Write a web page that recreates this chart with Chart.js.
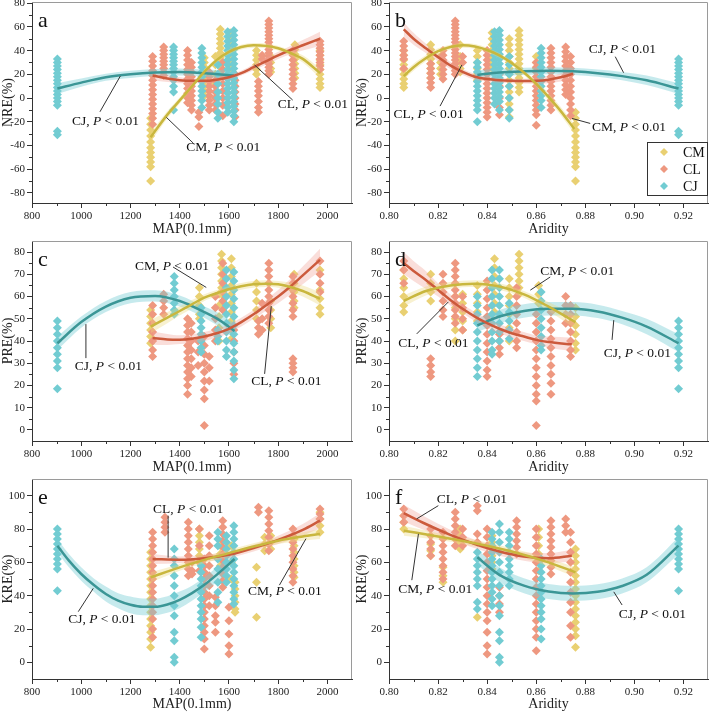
<!DOCTYPE html>
<html>
<head>
<meta charset="utf-8">
<script src="https://cdn.jsdelivr.net/npm/chart.js@4.4.1/dist/chart.umd.min.js"></script>
<style>
html, body { margin: 0; padding: 0; background: #fff; }
#wrap { position: relative; width: 709px; height: 713px; overflow: hidden; }
canvas { position: absolute; }
</style>
</head>
<body>
<div id="wrap">
  <canvas id="pa" width="354" height="238" style="left:0;top:0"></canvas>
  <canvas id="pb" width="355" height="238" style="left:354px;top:0"></canvas>
  <canvas id="pc" width="354" height="238" style="left:0;top:238px"></canvas>
  <canvas id="pd" width="355" height="238" style="left:354px;top:238px"></canvas>
  <canvas id="pe" width="354" height="237" style="left:0;top:476px"></canvas>
  <canvas id="pf" width="355" height="237" style="left:354px;top:476px"></canvas>
</div>
<script>
// tick values
const mapTicks = [800, 1000, 1200, 1400, 1600, 1800, 2000];
const aridTicks = [0.80, 0.82, 0.84, 0.86, 0.88, 0.90, 0.92];
const nreTicks = [-80, -60, -40, -20, 0, 20, 40, 60, 80];
const preTicks = [0, 10, 20, 30, 40, 50, 60, 70, 80];
const kreTicks = [0, 20, 40, 60, 80, 100];
const species = ['CM', 'CL', 'CJ'];

// columns of samples: [x, [y values]]
// NRE vs MAP
const nreMapCM = [
  [1282, [-17, -22, -27, -32, -37, -42, -46, -50, -54, -58, -70]],
  [1500, [34, 30, 26, 22, 18, 14, 10, 6, 2]],
  [1545, [35, 28, 20, 12]],
  [1565, [58, 54, 50, 46, 42, 38, 34, 30, 26, 22, 18]],
  [1605, [55, 51, 47, 43, 39, 35, 31, 27, 23]],
  [1712, [40, 36, 32, 28, 24, 20]],
  [1770, [35, 30, 25, 22]],
  [1868, [45, 41, 37, 33, 29, 25, 21, 17]],
  [1970, [40, 36, 32, 28, 24, 20, 16, 12, 9]]
];
const nreMapCL = [
  [1290, [35, 31, 27, 23, 19, 15, 11, 7, 3, -1, -5, -9, -13, -17, -22]],
  [1335, [43, 40, 37, 34, 31, 28, 25, 22, 19]],
  [1432, [40, 36, 32, 28, 24, 20, 16, 12, 8, 4, 0, -4]],
  [1448, [30, 26, 22, 18, 14, 10, 6, 2, -2, -6, -10]],
  [1478, [-12, -16, -24]],
  [1520, [22, 18, 14, 10, 6, 2, -2, -6, -10]],
  [1545, [15, 10, 5, 0, -5, -10]],
  [1575, [30, 24, 18, 12, 6, 0, -6, -15]],
  [1625, [20, 15, 10, 5, 0, -5, -10, -16]],
  [1720, [14, 10, 6, 2, -3, -8, -12]],
  [1735, [36, 33]],
  [1762, [65, 62, 59, 56, 53, 50, 47, 44, 41, 38, 35, 32, 29, 26, 23, 20]],
  [1860, [40, 36, 32, 28, 24, 20, 16, 12, 8]],
  [1970, [48, 45, 42, 39, 36, 33, 30, 27, 24]]
];
const nreMapCJ = [
  [903, [33, 30, 27, 24, 21, 18, 15, 12, 9, 6, 3, 0, -3, -6, -28, -31]],
  [1375, [43, 40, 37, 34, 31, 28, 25, 22, 18, 15, 10, 5, -10]],
  [1490, [42, 38, 34, 30, 26, 22, 18, 14, 10, 6, 2, -2, -8]],
  [1555, [28, 20, 12, 5, 0, -5, -12, -17]],
  [1595, [56, 52, 48, 44, 40, 36, 32, 28, 24, 20, 16, 12, 8, 4, 0, -4, -8, -12]],
  [1620, [57, 53, 49, 45, 41, 37, 33, 29, 25, 21, 17, 13, 9, 5, 1, -3, -7, -11, -15, -20]]
];
// NRE vs Aridity
const nreAridCM = [
  [0.806, [40, 36, 32, 28, 24, 20, 16, 12, 9]],
  [0.817, [45, 41, 37, 33, 29, 25, 21, 17]],
  [0.821, [35, 30, 25, 20]],
  [0.829, [45, 35, 30, 25, 22]],
  [0.836, [40, 35, 30, 25, 20, 15]],
  [0.842, [55, 50, 45, 40, 35, 30, 25]],
  [0.849, [50, 45, 40, 35, 30, 25, 20, 15, 10, 5, 0, -5, -10, -16]],
  [0.853, [57, 53, 49, 45, 41, 37, 33, 29, 25, 21, 17, 13, 9, 5]],
  [0.860, [35, 30, 25]],
  [0.876, [-12, -17, -22, -27, -32, -37, -42, -46, -50, -54, -58, -70]]
];
const nreAridCL = [
  [0.806, [48, 44, 40, 36, 33, 25]],
  [0.817, [29, 25, 21, 17, 13, 9]],
  [0.822, [40, 36, 32, 28, 24, 20, 16]],
  [0.827, [65, 62, 59, 56, 53, 50, 47, 44, 41, 38, 35, 32, 29, 26, 23, 20]],
  [0.830, [35, 30]],
  [0.840, [40, 36, 32, 28, 24, 20, 16, 12, 8, 4, 0, -4, -8, -12, -16]],
  [0.845, [20, 10, 0, -8, -14]],
  [0.860, [30, 26, 22, 18, 14, 10, 6, 2, -2, -6, -10, -14, -23]],
  [0.866, [42, 38, 34, 30, 26, 22, 18, 14, 10, 6, 2, -2, -6, -10]],
  [0.872, [43, 39, 35, 31, 27, 23, 19, 15, 11, 7, 3]],
  [0.874, [35, 30, 25, 20, 15, 10, 5, 0, -5, -10, -15]]
];
const nreAridCJ = [
  [0.836, [30, 26, 22, 18, 14, 10, 6, 2, -2, -6, -10, -20]],
  [0.843, [56, 52, 48, 44, 40, 36, 32, 28, 24, 20, 16, 12, 8, 4, 0, -5]],
  [0.845, [57, 53, 49, 45, 41, 37, 33, 29, 25, 21, 17, 13, 9, 5, 1, -3, -10]],
  [0.849, [35, 28, 20, 10, 0, -10, -17]],
  [0.862, [42, 38, 34, 30, 26, 22, 18, 14, 10, 6, 2, -2, -8]],
  [0.918, [33, 30, 27, 24, 21, 18, 15, 12, 9, 6, 3, 0, -3, -6, -28, -31]]
];
// PRE vs MAP
const preMapCM = [
  [1282, [54, 51, 48, 45, 42, 39]],
  [1480, [64, 60, 56, 52, 50]],
  [1560, [61, 56, 51, 46, 40]],
  [1570, [79, 76, 73, 70, 67, 64, 61]],
  [1610, [77, 73, 69, 65, 61, 57, 53, 49, 45, 41]],
  [1712, [66, 62, 58, 54, 50]],
  [1770, [58, 54, 50, 46]],
  [1865, [70, 66, 62, 58, 55]],
  [1970, [72, 63, 59, 55, 52]]
];
const preMapCL = [
  [1290, [56, 52, 48, 44, 40, 36, 33]],
  [1335, [61, 58, 55, 52]],
  [1432, [50, 47, 44, 41, 38, 35, 32, 29, 26, 23, 20, 16]],
  [1447, [48, 44, 40, 36, 32, 28, 24]],
  [1475, [40, 35, 29]],
  [1500, [42, 38, 34, 30, 26, 22, 18, 14, 2]],
  [1520, [33, 28, 22]],
  [1545, [60, 55, 50, 45, 40]],
  [1575, [75, 70, 66, 62, 58, 54]],
  [1620, [45, 40, 35, 30, 25]],
  [1720, [49, 46, 43]],
  [1735, [57, 50, 45]],
  [1762, [75, 72, 69, 66, 63, 60, 57, 54, 51, 48]],
  [1860, [69, 66, 63, 60, 57, 54, 51, 32, 30, 28, 26]],
  [1970, [76, 70, 66, 62]]
];
const preMapCJ = [
  [903, [49, 46, 43, 40, 37, 34, 31, 28, 18.5]],
  [1378, [69, 66, 63, 60, 57, 54, 52]],
  [1487, [55, 52, 49, 46, 43, 40, 37, 35]],
  [1555, [45, 42, 40]],
  [1590, [72, 68, 64, 60, 56, 52, 48, 44, 40, 36, 33]],
  [1620, [71, 67, 63, 59, 55, 51, 47, 43, 39, 35, 31, 27, 23]]
];
// PRE vs Aridity
const preAridCM = [
  [0.806, [72, 68, 64, 60, 56, 53]],
  [0.817, [70, 66, 62, 58]],
  [0.827, [60, 55, 50, 45, 40]],
  [0.830, [61, 57, 53, 49, 45]],
  [0.836, [65, 61, 57, 53, 49]],
  [0.843, [77, 73, 69, 65, 61, 57, 53]],
  [0.849, [68, 64, 60, 56, 52, 46, 40]],
  [0.853, [79, 76, 73, 70, 67, 64, 61]],
  [0.861, [65, 61, 57]],
  [0.876, [55, 51, 47, 43, 39, 36]]
];
const preAridCL = [
  [0.806, [76, 72, 66]],
  [0.817, [32, 29, 26, 24]],
  [0.822, [70, 66, 62, 58, 54, 51]],
  [0.827, [75, 72, 69, 66, 63, 60, 57, 54, 51, 48]],
  [0.830, [60, 55, 50, 45]],
  [0.840, [67, 63, 59, 55, 51, 47, 43, 39, 35, 31, 27, 24]],
  [0.845, [43, 40, 37, 34]],
  [0.852, [64, 60, 56, 52, 48, 44, 40, 37]],
  [0.860, [52, 48, 44, 40, 36, 32, 28, 24, 20, 16, 13, 2]],
  [0.866, [53, 49, 45, 41, 37, 33, 29, 25, 21, 16]],
  [0.872, [60, 56, 52, 48]],
  [0.874, [56, 52, 48, 44, 40, 36, 33]]
];
const preAridCJ = [
  [0.836, [60, 56, 52, 48, 44, 40, 36, 32, 28, 24]],
  [0.842, [72, 68, 64, 60, 56, 52, 48, 44, 40, 36, 34]],
  [0.845, [72, 68, 64, 60, 56, 52, 48, 44, 40]],
  [0.849, [57, 53, 49, 45, 41]],
  [0.862, [62, 58, 54, 50, 46, 42, 38, 36]],
  [0.918, [49, 46, 43, 40, 37, 34, 31, 28, 18.5]]
];
// KRE vs MAP
const kreMapCM = [
  [1282, [66, 62, 58, 54, 50, 46, 42, 38, 34, 30, 26, 22, 18, 14, 9]],
  [1480, [80, 76, 72, 68, 64, 60]],
  [1565, [70, 65, 58]],
  [1610, [70, 60, 50]],
  [1625, [48, 44, 40, 36, 32, 30]],
  [1712, [57, 48, 27]],
  [1745, [75, 71, 67]],
  [1770, [76, 72, 68]],
  [1865, [74, 70, 66, 62, 58, 54, 51]],
  [1970, [90, 86, 82, 78]]
];
const kreMapCL = [
  [1290, [78, 74, 70, 66, 62, 58, 54, 50, 46, 42, 38, 34, 30, 26, 20, 15]],
  [1340, [87, 84, 81, 78]],
  [1435, [84, 80, 76, 72, 68, 64, 60, 56, 52]],
  [1450, [60, 55, 53]],
  [1480, [80, 70, 60, 55]],
  [1500, [62, 58, 54, 50, 46, 42, 38, 34, 30, 26, 22, 18, 14, 8]],
  [1520, [76, 70, 64, 58, 52, 46, 40, 34]],
  [1545, [39, 34, 28, 24, 18]],
  [1575, [85, 81, 77, 73, 69, 65, 61, 57, 53, 49, 45]],
  [1600, [33, 25, 17, 10, 5]],
  [1720, [93, 90]],
  [1762, [91, 87, 83, 79, 75, 71, 67]],
  [1860, [80, 76, 72, 68, 64, 60, 56, 52, 48]],
  [1970, [92, 89, 86]]
];
const kreMapCJ = [
  [903, [80, 77, 74, 71, 68, 65, 62, 59, 56, 43]],
  [1378, [68, 62, 58, 52, 46, 40, 34, 28, 18, 13, 3, 0]],
  [1487, [58, 54, 50, 46, 42, 38, 34, 30, 26, 21, 15]],
  [1555, [78, 74, 70, 62, 56, 48, 42, 36]],
  [1590, [76, 72, 68, 64, 60, 56, 52, 48]],
  [1620, [82, 78, 74, 70, 66, 62, 58, 54, 50, 46, 42, 38, 35]]
];
// KRE vs Aridity
const kreAridCM = [
  [0.806, [88, 84, 80]],
  [0.817, [71, 67, 64]],
  [0.822, [57, 52, 48]],
  [0.829, [80, 76, 72, 68]],
  [0.836, [27]],
  [0.842, [76, 72, 68, 64, 60, 56]],
  [0.861, [80, 75, 70, 65, 60, 55]],
  [0.876, [68, 64, 60, 56, 52, 48, 44, 40, 36, 32, 28, 24, 20, 16, 9]]
];
const kreAridCL = [
  [0.806, [92, 88, 84]],
  [0.817, [80, 76, 72, 68, 64]],
  [0.822, [78, 74, 70, 66, 62, 58, 54, 50]],
  [0.827, [90, 86, 82, 78, 74, 70]],
  [0.830, [80, 75, 70]],
  [0.836, [94, 91, 77, 72]],
  [0.840, [80, 75, 70, 65, 60, 55, 50, 45, 40, 35, 30, 25, 18, 10, 5]],
  [0.845, [45, 40, 35, 30]],
  [0.852, [85, 81, 77, 73, 69, 65]],
  [0.860, [80, 75, 70, 65, 60, 55, 50, 45, 40, 35, 30, 25, 20, 15, 7]],
  [0.866, [85, 81, 77, 73, 69, 65, 61, 57, 53]],
  [0.872, [86, 82, 78]],
  [0.874, [78, 72, 66, 60, 54, 48, 42, 36, 30, 22, 15]]
];
const kreAridCJ = [
  [0.836, [66, 62, 58, 54, 50, 46, 36, 32]],
  [0.842, [78, 74, 70, 66, 62, 58, 54, 50, 46, 42, 38, 34]],
  [0.845, [83, 78, 72, 66, 60, 54, 46, 40, 34, 28, 18, 13, 3, 0]],
  [0.849, [78, 74, 70, 66, 62, 58, 54, 50, 46]],
  [0.862, [62, 58, 54, 50, 46, 42, 38, 34, 30, 26, 20, 14]],
  [0.918, [80, 77, 74, 71, 68, 65, 62, 59, 56, 43]]
];

// fitted curves: x, y, half width of the band
const nreMapFitCM = { x: [1282, 1350, 1400, 1450, 1500, 1550, 1600, 1650, 1700, 1750, 1800, 1850, 1900, 1970],
  y: [-33, -14, -2, 10, 22, 32, 39, 43, 44.5, 44, 42, 38, 33, 21], ci: [4, 3, 2.5, 2, 2, 2, 2, 2, 2, 2, 2, 2.5, 3, 4] };
const nreMapFitCL = { x: [1290, 1350, 1400, 1450, 1500, 1550, 1600, 1650, 1700, 1750, 1800, 1850, 1900, 1970],
  y: [19, 16.5, 15, 14.5, 14.5, 15.5, 17.5, 21, 26, 31, 36, 40.5, 44.5, 50], ci: [4, 3, 2.5, 2, 2, 2, 2, 2, 2.5, 3, 3, 3.5, 4.5, 6] };
const nreMapFitCJ = { x: [903, 1000, 1100, 1200, 1300, 1400, 1500, 1620],
  y: [8, 13, 17.5, 20, 21.5, 22, 21, 19], ci: [4.5, 3.5, 3, 3, 3, 3, 3, 4] };
const nreAridFitCM = { x: [0.806, 0.81, 0.815, 0.82, 0.825, 0.83, 0.835, 0.84, 0.845, 0.85, 0.855, 0.86, 0.865, 0.87, 0.8755],
  y: [18.5, 26, 33.5, 39.5, 43, 44.5, 43.5, 40.5, 36, 29.5, 21.5, 12, 1, -11, -26], ci: [3, 3, 2.5, 2.5, 2, 2, 2, 2, 2, 2, 2, 2.5, 3, 3.5, 4] };
const nreAridFitCL = { x: [0.806, 0.81, 0.815, 0.82, 0.825, 0.83, 0.835, 0.84, 0.845, 0.85, 0.855, 0.86, 0.865, 0.87, 0.875],
  y: [58, 50, 42, 34.5, 27.5, 22, 18, 16, 15, 14.5, 14.3, 14.5, 15.5, 17.5, 20.5], ci: [6, 5, 4, 3.5, 3, 2.5, 2.5, 2, 2, 2, 2, 2.5, 3, 3.5, 4] };
const nreAridFitCJ = { x: [0.836, 0.845, 0.855, 0.865, 0.875, 0.885, 0.895, 0.905, 0.918],
  y: [19.5, 21.5, 22.5, 23, 22.5, 21, 18.5, 15, 8], ci: [4, 3, 3, 3, 3, 3, 3.5, 4, 4.5] };
const preMapFitCM = { x: [1282, 1350, 1400, 1450, 1500, 1550, 1600, 1650, 1700, 1750, 1800, 1850, 1900, 1970],
  y: [46.5, 50.5, 53.5, 56.5, 59.5, 61.5, 63.3, 64.6, 65.5, 65.8, 65.5, 64.3, 62.5, 59], ci: [3, 2.5, 2, 2, 1.5, 1.5, 1.5, 1.5, 1.5, 1.5, 1.5, 2, 2.5, 3] };
const preMapFitCL = { x: [1290, 1350, 1400, 1450, 1500, 1550, 1600, 1650, 1700, 1750, 1800, 1850, 1900, 1970],
  y: [41.3, 40.7, 40.6, 41, 42, 43.5, 45.5, 48.5, 52, 56, 60, 64.5, 69.5, 76.5], ci: [3, 2.5, 2, 2, 2, 2, 2, 2, 2, 2.5, 3, 3.5, 4, 5] };
const preMapFitCJ = { x: [903, 1000, 1100, 1200, 1300, 1400, 1500, 1560, 1623],
  y: [39, 48.5, 55.5, 59.5, 60.3, 58, 53, 49.5, 44.5], ci: [3, 2.5, 2.5, 2.5, 2.5, 2.5, 2.5, 3, 3.5] };
const preAridFitCM = { x: [0.806, 0.815, 0.825, 0.835, 0.845, 0.855, 0.865, 0.876],
  y: [58, 62.5, 65, 65.8, 64.5, 61, 55.5, 48.5], ci: [2.5, 2, 1.5, 1.5, 1.5, 1.5, 2, 3] };
const preAridFitCL = { x: [0.806, 0.81, 0.815, 0.82, 0.825, 0.83, 0.835, 0.84, 0.845, 0.85, 0.855, 0.86, 0.865, 0.8745],
  y: [75, 71.5, 67.5, 63, 58.5, 54.5, 51, 48, 45.5, 43.5, 42, 40.5, 39.5, 38.5], ci: [5, 4.5, 4, 3, 2.5, 2, 2, 2, 2, 2, 2, 2, 2.5, 3] };
const preAridFitCJ = { x: [0.836, 0.845, 0.855, 0.865, 0.875, 0.885, 0.895, 0.905, 0.918],
  y: [47, 51, 53.5, 54.5, 54.5, 53.3, 50.5, 46.5, 39], ci: [3, 3, 3, 3, 3, 3, 3, 3.5, 4] };
const kreMapFitCM = { x: [1282, 1400, 1500, 1600, 1700, 1800, 1900, 1970],
  y: [51, 57, 61.5, 65.5, 69.5, 73, 75.5, 77], ci: [3, 2, 2, 2, 2, 2, 2.5, 3] };
const kreMapFitCL = { x: [1290, 1400, 1500, 1600, 1700, 1800, 1900, 1970],
  y: [62, 61.5, 62.5, 64.5, 68.5, 73.5, 79.5, 85], ci: [3, 2, 2, 2, 2, 2.5, 3.5, 4.5] };
const kreMapFitCJ = { x: [903, 950, 1000, 1050, 1100, 1150, 1200, 1250, 1300, 1350, 1400, 1450, 1500, 1550, 1623],
  y: [70, 61, 53, 46.5, 41, 37, 34.5, 33.3, 33.3, 34.7, 37.5, 41.5, 46.5, 52.5, 62], ci: [4, 4, 4, 4, 4.5, 4.5, 5, 5, 5, 5, 5, 4.5, 4.5, 4.5, 5] };
const kreAridFitCM = { x: [0.806, 0.82, 0.835, 0.85, 0.865, 0.876],
  y: [79, 75.5, 71.5, 66.5, 60, 54], ci: [3, 2, 2, 2, 2.5, 3] };
const kreAridFitCL = { x: [0.806, 0.815, 0.825, 0.835, 0.845, 0.855, 0.865, 0.8745],
  y: [89.5, 83, 76.5, 71, 66.5, 63.5, 62.5, 64], ci: [5, 4, 3, 2.5, 2.5, 2.5, 3, 3.5] };
const kreAridFitCJ = { x: [0.836, 0.845, 0.855, 0.865, 0.875, 0.885, 0.895, 0.905, 0.918],
  y: [63, 52.5, 46, 42.5, 41.3, 42.3, 45.8, 52.5, 70], ci: [4.5, 4.5, 4.5, 4.5, 4.5, 4.5, 4.5, 4.5, 5] };

const FONT = "'Liberation Serif', 'Times New Roman', serif";
const COL = {
  CM: { pt: '#E9D072', line: '#C9B73E', band: 'rgba(236, 214, 120, 0.35)' },
  CL: { pt: '#EE9880', line: '#CC5A3C', band: 'rgba(240, 160, 150, 0.35)' },
  CJ: { pt: '#72CCD2', line: '#3B9696', band: 'rgba(120, 205, 212, 0.42)' }
};
const X_AXES = {
  map: { min: 800, max: 2100, ticks: mapTicks, label: 'MAP(0.1mm)', fmt: v => String(v) },
  arid: { min: 0.80, max: 0.93, ticks: aridTicks, label: 'Aridity', fmt: v => v.toFixed(2) }
};

// label text position (tx, ty) and leader line, all in data units
const panels = [
  { id: 'pa', x: 'map', yLabel: 'NRE(%)', yMin: -88.5, yMax: 81, yTicks: nreTicks, letter: 'a', top: 2, right: 2, yw: 32, xh: 35,
    cols: { CM: nreMapCM, CL: nreMapCL, CJ: nreMapCJ }, fits: { CM: nreMapFitCM, CL: nreMapFitCL, CJ: nreMapFitCJ },
    notes: [
      { s: 'CJ', tx: 962, ty: -23, x1: 1076, y1: -11.6, x2: 1159, y2: 18.6 },
      { s: 'CM', tx: 1427, ty: -45, x1: 1454, y1: -37.8, x2: 1346, y2: -16.3 },
      { s: 'CL', tx: 1798, ty: -8.5, x1: 1859, y1: -1.7, x2: 1704, y2: 27.9 }
    ] },
  { id: 'pb', x: 'arid', yLabel: 'NRE(%)', yMin: -88.5, yMax: 81, yTicks: nreTicks, letter: 'b', top: 2, right: 1, yw: 35, xh: 35, legend: true,
    cols: { CM: nreAridCM, CL: nreAridCL, CJ: nreAridCJ }, fits: { CM: nreAridFitCM, CL: nreAridFitCL, CJ: nreAridFitCJ },
    notes: [
      { s: 'CL', tx: 0.8018, ty: -16.4, x1: 0.8208, y1: -6.8, x2: 0.8297, y2: 27.9 },
      { s: 'CM', tx: 0.8827, ty: -27.6, x1: 0.8820, y1: -21.4, x2: 0.8746, y2: -17.2 },
      { s: 'CJ', tx: 0.8814, ty: 37.7, x1: 0.8922, y1: 34.9, x2: 0.8956, y2: 21.4 }
    ] },
  { id: 'pc', x: 'map', yLabel: 'PRE(%)', yMin: -5, yMax: 85, yTicks: preTicks, letter: 'c', top: 3, right: 2, yw: 32, xh: 35,
    cols: { CM: preMapCM, CL: preMapCL, CJ: preMapCJ }, fits: { CM: preMapFitCM, CL: preMapFitCL, CJ: preMapFitCJ },
    notes: [
      { s: 'CM', tx: 1218, ty: 72.1, x1: 1373, y1: 73.3, x2: 1508, y2: 64.1 },
      { s: 'CJ', tx: 974, ty: 27, x1: 1019, y1: 32.3, x2: 1019, y2: 47.6 },
      { s: 'CL', tx: 1691, ty: 20.3, x1: 1745, y1: 25.2, x2: 1772, y2: 55.7 }
    ] },
  { id: 'pd', x: 'arid', yLabel: 'PRE(%)', yMin: -5, yMax: 85, yTicks: preTicks, letter: 'd', top: 3, right: 1, yw: 35, xh: 35,
    cols: { CM: preAridCM, CL: preAridCL, CJ: preAridCJ }, fits: { CM: preAridFitCM, CL: preAridFitCL, CJ: preAridFitCJ },
    notes: [
      { s: 'CM', tx: 0.8616, ty: 69.6, x1: 0.8657, y1: 68.8, x2: 0.8576, y2: 62.9 },
      { s: 'CL', tx: 0.8038, ty: 37.2, x1: 0.8113, y1: 43.2, x2: 0.8242, y2: 57.6 },
      { s: 'CJ', tx: 0.8875, ty: 33, x1: 0.8909, y1: 40.5, x2: 0.8916, y2: 49.4 }
    ] },
  { id: 'pe', x: 'map', yLabel: 'KRE(%)', yMin: -10, yMax: 110, yTicks: kreTicks, letter: 'e', top: 3, right: 2, yw: 32, xh: 34,
    cols: { CM: kreMapCM, CL: kreMapCL, CJ: kreMapCJ }, fits: { CM: kreMapFitCM, CL: kreMapFitCL, CJ: kreMapFitCJ },
    notes: [
      { s: 'CL', tx: 1292, ty: 89.4, x1: 1353, y1: 88, x2: 1353, y2: 62.8 },
      { s: 'CJ', tx: 947, ty: 23.5, x1: 988, y1: 30.4, x2: 1049, y2: 44.4 },
      { s: 'CM', tx: 1677, ty: 40.4, x1: 1805, y1: 46.3, x2: 1913, y2: 74.2 }
    ] },
  { id: 'pf', x: 'arid', yLabel: 'KRE(%)', yMin: -10, yMax: 110, yTicks: kreTicks, letter: 'f', top: 3, right: 1, yw: 35, xh: 34,
    cols: { CM: kreAridCM, CL: kreAridCL, CJ: kreAridCJ }, fits: { CM: kreAridFitCM, CL: kreAridFitCL, CJ: kreAridFitCJ },
    notes: [
      { s: 'CL', tx: 0.8195, ty: 95.4, x1: 0.8201, y1: 94, x2: 0.8113, y2: 86.1 },
      { s: 'CM', tx: 0.8038, ty: 41.7, x1: 0.8093, y1: 49.3, x2: 0.812, y2: 77.1 },
      { s: 'CJ', tx: 0.8936, ty: 26.5, x1: 0.895, y1: 34.4, x2: 0.8916, y2: 42.3 }
    ] }
];

function minorTicks(major, min, max) {
  const step = major[1] - major[0];
  const out = [];
  for (let v = major[0] - step / 2; v < max; v += step) {
    if (v > min + 1e-9 && v < max - 1e-9) out.push(v);
  }
  return out;
}

const decor = {
  id: 'decor',
  afterDraw(chart, args, o) {
    const { ctx, chartArea: ca } = chart;
    const xs = chart.scales.x, ys = chart.scales.y;
    ctx.save();
    // top and right frame
    ctx.strokeStyle = '#9a9a9a';
    ctx.lineWidth = 1;
    ctx.beginPath();
    ctx.moveTo(ca.left, ca.top + 0.5); ctx.lineTo(ca.right - 0.5, ca.top + 0.5); ctx.lineTo(ca.right - 0.5, ca.bottom);
    ctx.stroke();
    // minor ticks
    ctx.strokeStyle = '#333';
    ctx.beginPath();
    minorTicks(o.yTicks, o.yMin, o.yMax).forEach(v => {
      const py = Math.round(ys.getPixelForValue(v)) + 0.5;
      ctx.moveTo(ca.left - 3, py); ctx.lineTo(ca.left, py);
    });
    minorTicks(o.xTicks, o.xMin, o.xMax).forEach(v => {
      const px = Math.round(xs.getPixelForValue(v)) + 0.5;
      ctx.moveTo(px, ca.bottom); ctx.lineTo(px, ca.bottom + 3);
    });
    ctx.stroke();
    // leader lines and labels
    ctx.strokeStyle = '#333';
    ctx.fillStyle = '#111';
    ctx.textBaseline = 'alphabetic';
    o.notes.forEach(n => {
      ctx.beginPath();
      ctx.moveTo(xs.getPixelForValue(n.x1), ys.getPixelForValue(n.y1));
      ctx.lineTo(xs.getPixelForValue(n.x2), ys.getPixelForValue(n.y2));
      ctx.stroke();
      let px = xs.getPixelForValue(n.tx);
      const py = ys.getPixelForValue(n.ty);
      ctx.font = '13.5px ' + FONT;
      ctx.fillText(n.s + ', ', px, py); px += ctx.measureText(n.s + ', ').width;
      ctx.font = 'italic 13.5px ' + FONT;
      ctx.fillText('P', px, py); px += ctx.measureText('P').width;
      ctx.font = '13.5px ' + FONT;
      ctx.fillText(' < 0.01', px, py);
    });
    // panel letter
    ctx.font = '22px ' + FONT;
    ctx.fillText(o.letter, ca.left + 6, ca.top + 25);
    // legend box
    if (o.legend) {
      const bx = ca.right - 61, by = ca.top + 140;
      ctx.fillStyle = '#fff';
      ctx.fillRect(bx, by, 61, 54);
      ctx.strokeStyle = '#333';
      ctx.strokeRect(bx + 0.5, by + 0.5, 60, 53);
      species.forEach((sp, i) => {
        const cy = by + 10 + i * 17;
        ctx.fillStyle = COL[sp].pt;
        ctx.beginPath();
        ctx.moveTo(bx + 17, cy - 4); ctx.lineTo(bx + 21, cy); ctx.lineTo(bx + 17, cy + 4); ctx.lineTo(bx + 13, cy);
        ctx.closePath(); ctx.fill();
        ctx.fillStyle = '#111';
        ctx.font = '14px ' + FONT;
        ctx.textBaseline = 'middle';
        ctx.fillText(sp, bx + 36, cy + 1);
      });
    }
    ctx.restore();
  }
};

panels.forEach(p => {
  const xa = X_AXES[p.x];
  const datasets = [];
  species.forEach((sp, k) => {
    datasets.push({
      type: 'scatter',
      label: sp,
      data: p.cols[sp].flatMap(([x, ys]) => ys.map(y => ({ x, y }))),
      pointStyle: 'rectRot',
      pointRadius: 4.5,
      pointBorderWidth: 0,
      backgroundColor: COL[sp].pt,
      borderColor: COL[sp].pt,
      order: 12 - k
    });
  });
  species.forEach(sp => {
    const f = p.fits[sp];
    const up = datasets.length;
    const common = { type: 'line', pointRadius: 0, cubicInterpolationMode: 'monotone' };
    datasets.push(Object.assign({}, common, {
      data: f.x.map((x, i) => ({ x, y: f.y[i] + f.ci[i] })), borderWidth: 0, fill: false, order: 5
    }));
    datasets.push(Object.assign({}, common, {
      data: f.x.map((x, i) => ({ x, y: f.y[i] - f.ci[i] })), borderWidth: 0, fill: up, backgroundColor: COL[sp].band, order: 5
    }));
    datasets.push(Object.assign({}, common, {
      data: f.x.map((x, i) => ({ x, y: f.y[i] })), borderColor: COL[sp].line, borderWidth: 2.5, fill: false, order: 1
    }));
  });

  new Chart(document.getElementById(p.id), {
    type: 'scatter',
    data: { datasets },
    options: {
      responsive: false,
      animation: false,
      devicePixelRatio: 1,
      events: [],
      layout: { padding: { top: p.top, right: p.right, left: 0, bottom: 0 }, autoPadding: false },
      plugins: {
        legend: { display: false },
        tooltip: { enabled: false },
        decor: { notes: p.notes, letter: p.letter, legend: !!p.legend, yTicks: p.yTicks, yMin: p.yMin, yMax: p.yMax,
                 xTicks: xa.ticks, xMin: xa.min, xMax: xa.max }
      },
      scales: {
        x: {
          type: 'linear', min: xa.min, max: xa.max,
          afterBuildTicks: s => { s.ticks = xa.ticks.map(v => ({ value: v })); },
          afterFit: s => { s.height = p.xh; s.paddingLeft = 0; s.paddingRight = 0; },
          ticks: { callback: v => xa.fmt(v), font: { family: FONT, size: 11 }, color: '#222', padding: 2, maxRotation: 0, autoSkip: false },
          grid: { drawOnChartArea: false, tickLength: 5, color: '#333' },
          border: { color: '#333', width: 1 },
          title: { display: true, text: xa.label, font: { family: FONT, size: 14 }, color: '#222', padding: 0 }
        },
        y: {
          type: 'linear', min: p.yMin, max: p.yMax,
          afterBuildTicks: s => { s.ticks = p.yTicks.map(v => ({ value: v })); },
          afterFit: s => { s.width = p.yw; s.paddingTop = 0; s.paddingBottom = 0; },
          ticks: { font: { family: FONT, size: 11 }, color: '#222', padding: 2, autoSkip: false },
          grid: { drawOnChartArea: false, tickLength: 5, color: '#333' },
          border: { color: '#333', width: 1 },
          title: { display: true, text: p.yLabel, font: { family: FONT, size: 14 }, color: '#222', padding: 0 }
        }
      }
    },
    plugins: [decor]
  });
});
</script>
</body>
</html>
